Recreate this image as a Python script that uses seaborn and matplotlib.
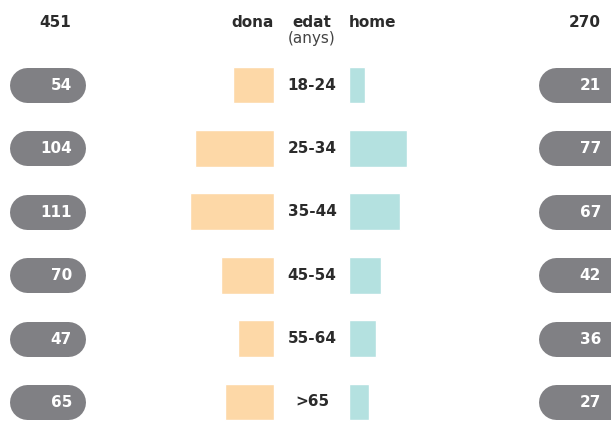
import matplotlib
matplotlib.use("Agg")
import matplotlib.pyplot as plt
import seaborn as sns

ages = ['18-24', '25-34', '35-44', '45-54', '55-64', '>65']
dona = [54, 104, 111, 70, 47, 65]
home = [21, 77, 67, 42, 36, 27]

DONA_COLOR = '#FDD8A7'
HOME_COLOR = '#B4E1E0'
PILL_COLOR = '#808084'
TEXT_COLOR = '#2b2b2b'

sns.set_style('white')
plt.rcParams['font.family'] = ['DejaVu Sans']

W, H = 611, 421
fig = plt.figure(figsize=(W / 100, H / 100), dpi=100)
fig.patch.set_facecolor('white')

# layout in pixels
px_per_unit = 0.757
row0, row_step = 85, 63.4
center_left, center_right = 274, 349
ylim = ((H - row0) / row_step, -row0 / row_step)

# women, growing to the left
ax_l = fig.add_axes([0, 0, center_left / W, 1])
sns.barplot(x=dona, y=ages, orient='h', color=DONA_COLOR, saturation=1,
            width=0.58, ax=ax_l)
ax_l.set_xlim(center_left / px_per_unit, 0)
ax_l.set_ylim(*ylim)
ax_l.axis('off')

# men, growing to the right
ax_r = fig.add_axes([center_right / W, 0, (W - center_right) / W, 1])
sns.barplot(x=home, y=ages, orient='h', color=HOME_COLOR, saturation=1,
            width=0.58, ax=ax_r)
ax_r.set_xlim(0, (W - center_right) / px_per_unit)
ax_r.set_ylim(*ylim)
ax_r.axis('off')

# overlay in pixel coords for labels and pills
ov = fig.add_axes([0, 0, 1, 1])
ov.set_xlim(0, W)
ov.set_ylim(H, 0)
ov.axis('off')

fs = 11
ov.text(55, 27, str(sum(dona)), ha='center', va='baseline', fontsize=fs,
        fontweight='bold', color=TEXT_COLOR)
ov.text(585, 27, str(sum(home)), ha='center', va='baseline', fontsize=fs,
        fontweight='bold', color=TEXT_COLOR)
ov.text(center_left, 27, 'dona', ha='right', va='baseline', fontsize=fs,
        fontweight='bold', color=TEXT_COLOR)
ov.text(center_right, 27, 'home', ha='left', va='baseline', fontsize=fs,
        fontweight='bold', color=TEXT_COLOR)
ov.text(312, 27, 'edat', ha='center', va='baseline', fontsize=fs,
        fontweight='bold', color=TEXT_COLOR)
ov.text(312, 43, '(anys)', ha='center', va='baseline', fontsize=fs,
        color='#444444')

pill_h = 35
pill_lw = pill_h * 72 / 100  # px -> pt
r = pill_h / 2
for i, (age, d, h) in enumerate(zip(ages, dona, home)):
    y = row0 + i * row_step
    ov.text(312, y, age, ha='center', va='center', fontsize=fs,
            fontweight='bold', color=TEXT_COLOR)
    for x0, x1, val, xr in [(9, 85, d, 72), (538, 628, h, 601)]:
        ov.plot([x0 + r, x1 - r], [y, y], color=PILL_COLOR, lw=pill_lw,
                solid_capstyle='round')
        ov.text(xr, y + 0.5, str(val), ha='right', va='center', fontsize=fs,
                fontweight='bold', color='white')

fig.savefig('out.png', dpi=100, facecolor='white')
